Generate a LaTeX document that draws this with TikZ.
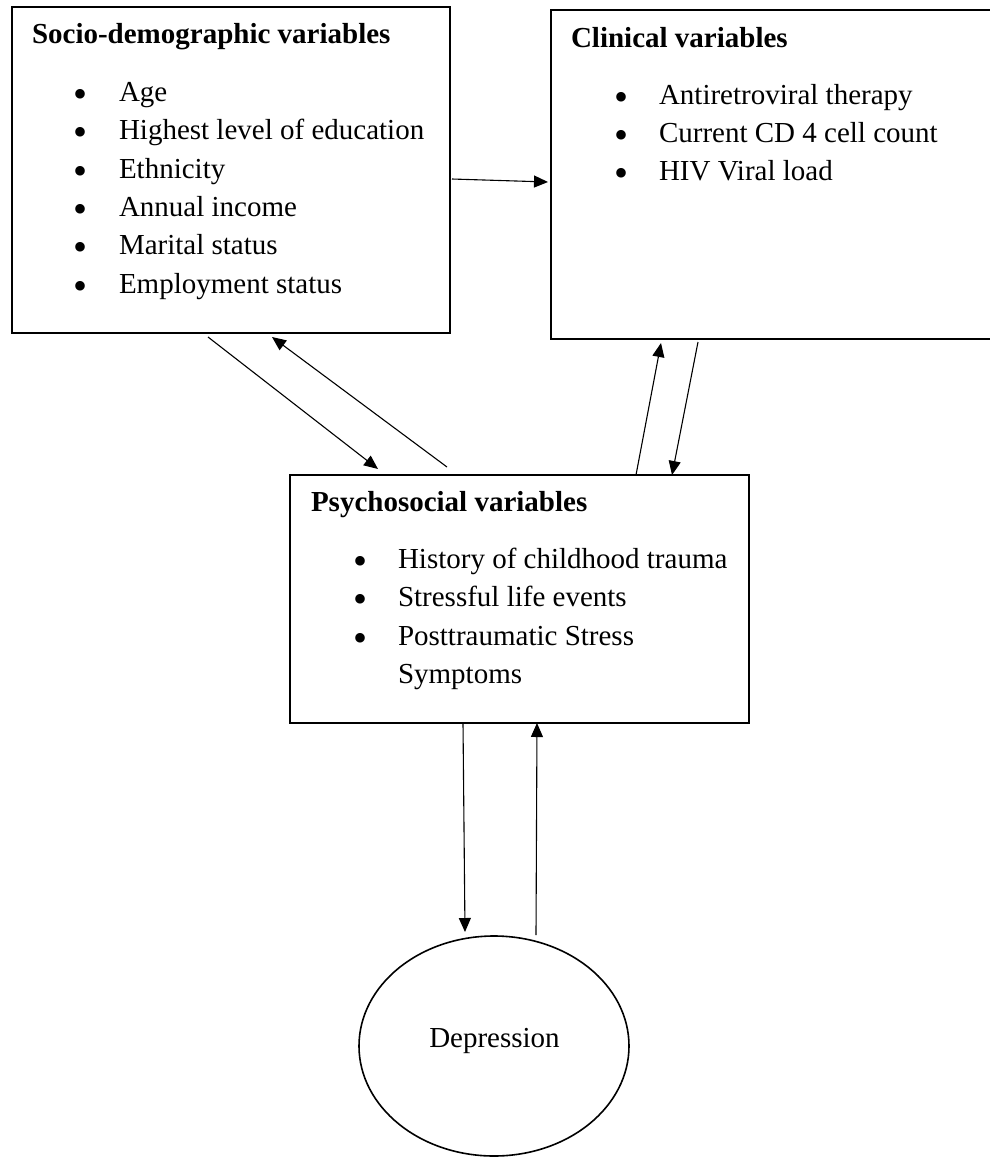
\documentclass[tikz,border=0pt]{standalone}
\usepackage{fontspec}
\setmainfont{Liberation Serif}
\usetikzlibrary{arrows.meta,shapes.geometric,calc}
\tikzset{
  box/.style={draw, line width=1.6pt, inner sep=0pt, outer sep=0pt, anchor=north west},
  oval/.style={draw, ellipse, line width=1.6pt, inner sep=0pt, outer sep=0pt, minimum width=270pt, minimum height=220pt},
  txt/.style={inner sep=0pt, outer sep=0pt, anchor=base west, font=\fontsize{29}{38}\selectfont},
  ttl/.style={txt, font=\fontsize{29}{38}\selectfont\bfseries},
  bul/.style={inner sep=0pt, outer sep=0pt, anchor=center, yshift=3pt, font=\fontsize{40}{40}\selectfont},
  arr/.style={line width=1.1pt, -{Triangle[length=14pt,width=12pt]}}
}
\begin{document}
\begin{tikzpicture}[x=1pt,y=-1pt]
\useasboundingbox (0,0) rectangle (990,1157);
\fill[white] (0,0) rectangle (990,1157);
% boxes
\node[box, minimum width=438pt, minimum height=326pt] (socio) at (12,7) {};
\node[box, minimum width=460pt, minimum height=329pt] (clinical) at (551,10) {};
\node[box, minimum width=459pt, minimum height=248pt] (psycho) at (290,475) {};
\node[oval] (depr) at (494,1046) {};
% socio-demographic text
\node[ttl] (st) at (32,43) {Socio-demographic variables};
\node[bul] (sb1) at (81,101.5) {•};
\node[txt] (s1) at (119,101.5) {Age};
\node[bul] (sb2) at (81,139.8) {•};
\node[txt] (s2) at (119,139.8) {Highest level of education};
\node[bul] (sb3) at (81,178.2) {•};
\node[txt] (s3) at (119,178.2) {Ethnicity};
\node[bul] (sb4) at (81,216.5) {•};
\node[txt] (s4) at (119,216.5) {Annual income};
\node[bul] (sb5) at (81,254.8) {•};
\node[txt] (s5) at (119,254.8) {Marital status};
\node[bul] (sb6) at (81,293.2) {•};
\node[txt] (s6) at (119,293.2) {Employment status};
% clinical text
\node[ttl] (ct) at (571,47) {Clinical variables};
\node[bul] (cb1) at (621,104) {•};
\node[txt] (c1) at (659,104) {Antiretroviral therapy};
\node[bul] (cb2) at (621,142.3) {•};
\node[txt] (c2) at (659,142.3) {Current CD 4 cell count};
\node[bul] (cb3) at (621,180.7) {•};
\node[txt] (c3) at (659,180.7) {HIV Viral load};
% psychosocial text
\node[ttl] (pt) at (311,511.7) {Psychosocial variables};
\node[bul] (pb1) at (360,568.3) {•};
\node[txt] (p1) at (398,568.3) {History of childhood trauma};
\node[bul] (pb2) at (360,606.7) {•};
\node[txt] (p2) at (398,606.7) {Stressful life events};
\node[bul] (pb3) at (360,645) {•};
\node[txt] (p3) at (398,645) {Posttraumatic Stress};
\node[txt] (p4) at (398,683.3) {Symptoms};
% depression
\node[inner sep=0pt, anchor=base, font=\fontsize{29}{38}\selectfont] (dt) at (494.5,1047) {Depression};
% connectors
\draw[arr] ($(socio.north east)+(2,172)$) -- ($(clinical.north west)+(-3,172)$);
\draw[arr] ($(socio.south west)+(196,4)$) -- ($(psycho.north west)+(88,-6)$);
\draw[arr] ($(psycho.north west)+(157,-8)$) -- ($(socio.south west)+(260,4)$);
\draw[arr] ($(psycho.north west)+(346,0)$) -- ($(clinical.south west)+(110,4)$);
\draw[arr] ($(clinical.south west)+(147,3)$) -- ($(psycho.north west)+(382,0)$);
\draw[arr] ($(psycho.south west)+(173,0)$) -- ($(depr.north)+(-29,-4)$);
\draw[arr] ($(depr.north)+(42,-1)$) -- ($(psycho.south west)+(247,0)$);
\end{tikzpicture}
\end{document}
